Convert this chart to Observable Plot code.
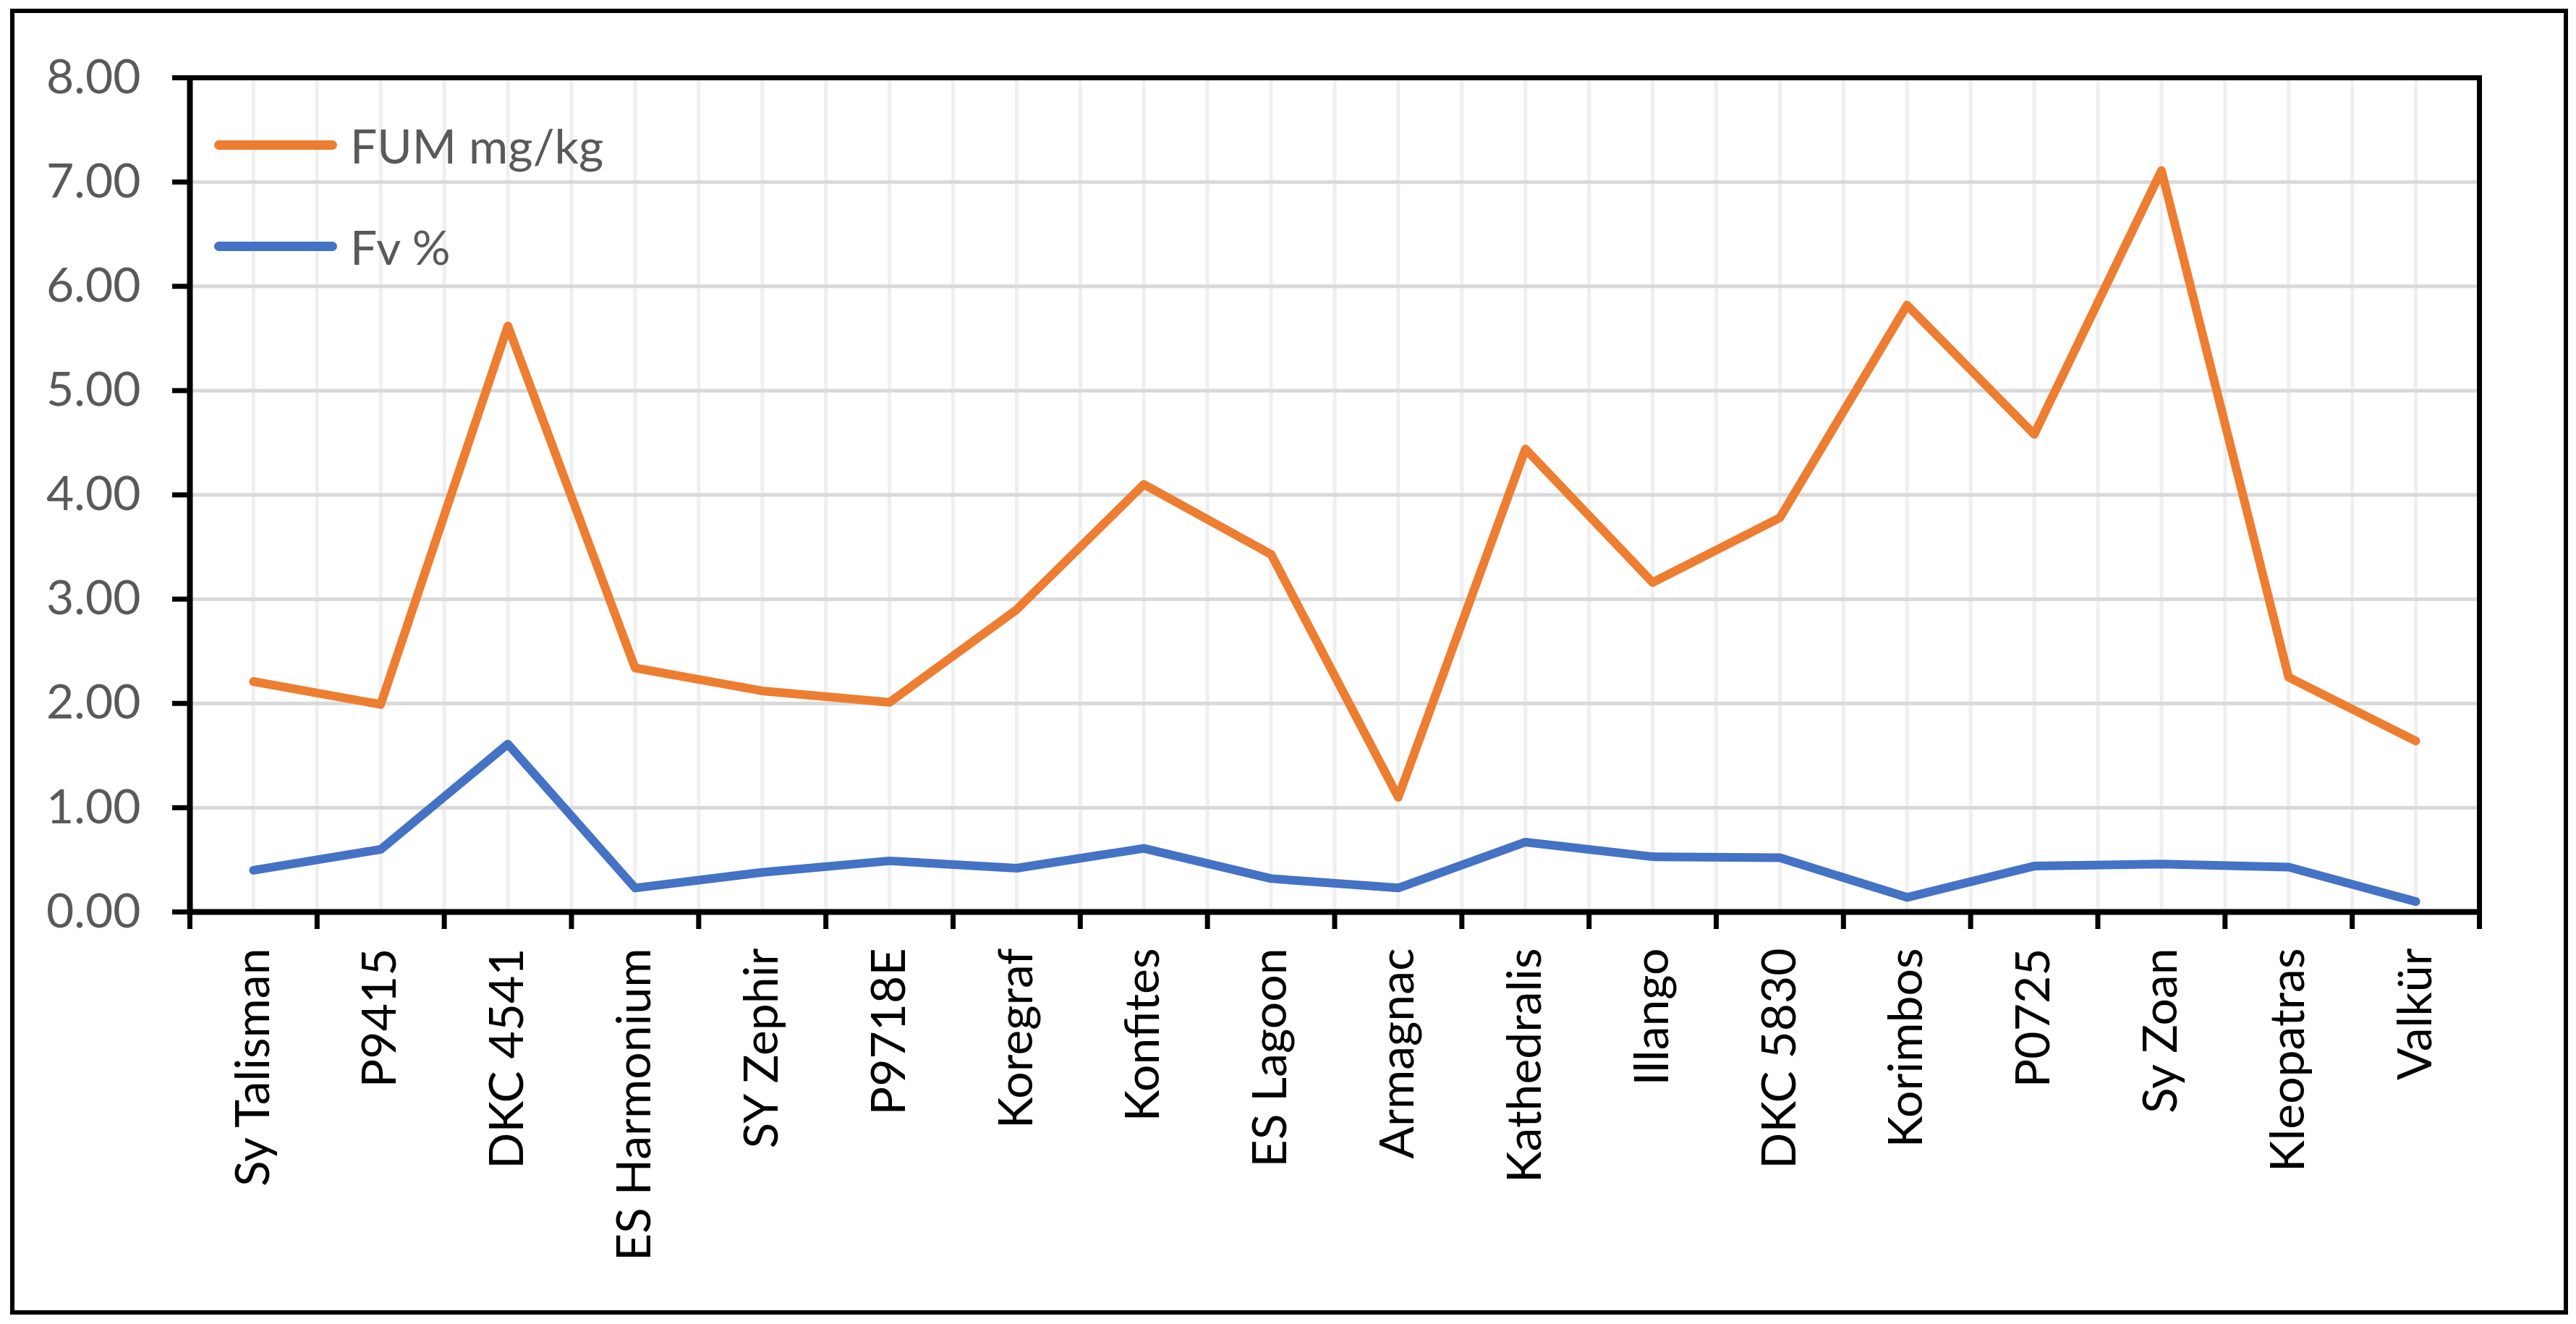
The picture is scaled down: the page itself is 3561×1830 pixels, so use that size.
<!DOCTYPE html>
<html>
<head>
<meta charset="utf-8">
<script src="https://cdn.jsdelivr.net/npm/d3@7"></script>
<script src="https://cdn.jsdelivr.net/npm/@observablehq/plot@0.6"></script>
<style>
  html, body { margin: 0; padding: 0; background: #fff; }
  #wrap { position: relative; width: 3561px; height: 1830px; font-family: Lato, "Open Sans", sans-serif; }
  #border { position: absolute; left: 14px; top: 12px; width: 3536px; height: 1805px; border: 6px solid #000; box-sizing: border-box; pointer-events: none; }
  .leg { position: absolute; display: flex; align-items: center; font-size: 66px; color: #595959; }
  .leg .sw { width: 170px; height: 13px; border-radius: 7px; margin-right: 18px; }
</style>
</head>
<body>
<div id="wrap">
  <div id="chart"></div>
  <div id="border"></div>
  <div class="leg" style="left:296px; top:161px;"><div class="sw" style="background:#ED7D31"></div><span>FUM mg/kg</span></div>
  <div class="leg" style="left:296px; top:301px;"><div class="sw" style="background:#4472C4"></div><span>Fv %</span></div>
</div>
<script>
const categories = ["Sy Talisman", "P9415", "DKC 4541", "ES Harmonium", "SY Zephir", "P9718E", "Koregraf", "Konfites", "ES Lagoon", "Armagnac", "Kathedralis", "Illango", "DKC 5830", "Korimbos", "P0725", "Sy Zoan", "Kleopatras", "Valkür"];
const fum = [2.21, 1.99, 5.62, 2.34, 2.12, 2.01, 2.90, 4.10, 3.43, 1.10, 4.44, 3.16, 3.78, 5.82, 4.58, 7.11, 2.25, 1.64];
const fv = [0.40, 0.60, 1.61, 0.23, 0.38, 0.49, 0.42, 0.61, 0.32, 0.23, 0.67, 0.53, 0.52, 0.14, 0.44, 0.46, 0.43, 0.10];
const yTicks = [0, 1, 2, 3, 4, 5, 6, 7, 8];

const rows = categories.map((c, i) => ({cat: c, i, fum: fum[i], fv: fv[i]}));
const boundaries = d3.range(categories.length + 1).map(k => k - 0.5);
const halfSteps = d3.range(0, 2 * categories.length + 1).map(k => k / 2 - 0.5);

const chart = Plot.plot({
  width: 3561,
  height: 1830,
  marginLeft: 262,
  marginRight: 134,
  marginTop: 107,
  marginBottom: 570,
  style: {fontFamily: "Lato, 'Open Sans', sans-serif", fontSize: "66px", background: "transparent"},
  x: {type: "linear", domain: [-0.5, categories.length - 0.5]},
  y: {type: "linear", domain: [0, 8]},
  marks: [
    Plot.gridX({ticks: halfSteps, stroke: "#efefef", strokeOpacity: 1, strokeWidth: 5}),
    Plot.gridY({ticks: yTicks, stroke: "#d9d9d9", strokeOpacity: 1, strokeWidth: 5}),
    Plot.line(rows, {x: "i", y: "fum", stroke: "#ED7D31", strokeWidth: 12, strokeLinejoin: "round", strokeLinecap: "round"}),
    Plot.line(rows, {x: "i", y: "fv", stroke: "#4472C4", strokeWidth: 12, strokeLinejoin: "round", strokeLinecap: "round"}),
    Plot.frame({stroke: "#000", strokeWidth: 7}),
    Plot.ruleY([0], {stroke: "#000", strokeWidth: 8}),
    Plot.ruleX([-0.5], {stroke: "#000", strokeWidth: 8}),
    Plot.axisY({ticks: yTicks, tickSize: 24, tickPadding: 44, stroke: "#000", strokeWidth: 7, fill: "#595959", fontSize: 66, tickFormat: d => d.toFixed(2), label: null}),
    Plot.axisX({ticks: boundaries, tickSize: 24, stroke: "#000", strokeWidth: 7, tickFormat: () => "", label: null}),
    Plot.axisX({ticks: d3.range(categories.length), tickSize: 0, tickPadding: 50, tickRotate: -90, fill: "#000", fontSize: 66, tickFormat: i => categories[i], label: null})
  ]
});
document.getElementById("chart").appendChild(chart);
</script>
</body>
</html>
